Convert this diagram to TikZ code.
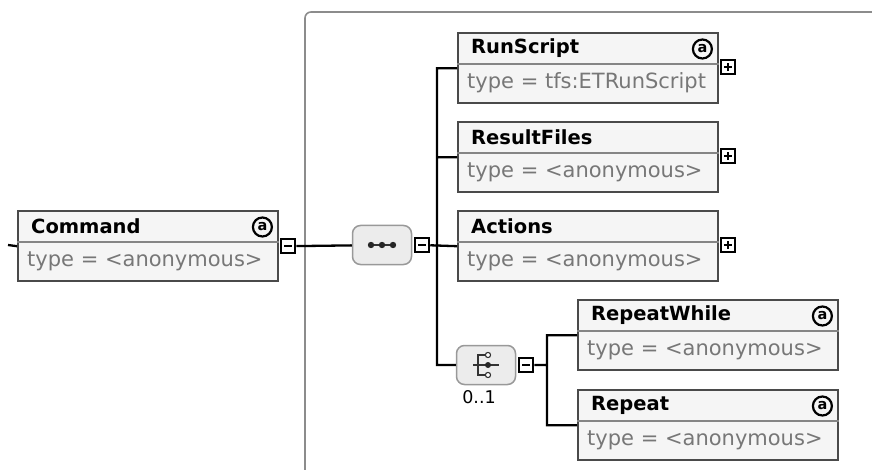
\documentclass[tikz,border=0pt]{standalone}
\usepackage{fontspec}
\setmainfont{DejaVu Sans}
\usepackage{tikz}

\definecolor{boxfill}{HTML}{F5F5F5}
\definecolor{boxline}{HTML}{4A4A4A}
\definecolor{sepgray}{HTML}{858585}
\definecolor{typegray}{HTML}{777777}
\definecolor{grpfill}{HTML}{ECECEC}
\definecolor{grpline}{HTML}{999999}
\definecolor{panelgray}{HTML}{8C8C8C}

% element box: name, top-left corner, title, type
\newcommand{\xsdelem}[4]{%
  \node[elem] (#1) at (#2) {};
  \draw[sepline] ([yshift=-32pt]#1.north west) -- ([yshift=-32pt]#1.north east);
  \node[etitle] (#1-title) at ([xshift=14pt,yshift=-16pt]#1.north west) {#3};
  \node[etype] (#1-type) at ([xshift=10pt,yshift=-51pt]#1.north west) {#4};
}

\begin{document}
\begin{tikzpicture}[x=1pt,y=-1pt,
    elem/.style={draw=boxline, fill=boxfill, line width=2.4pt, anchor=north west,
                 minimum width=260pt, minimum height=70pt, inner sep=0pt},
    sepline/.style={draw=sepgray, line width=2.2pt},
    etitle/.style={anchor=west, inner sep=0pt, font=\fontsize{19.5}{19.5}\selectfont\bfseries},
    etype/.style={anchor=west, inner sep=0pt, text=typegray, font=\fontsize{21}{21}\selectfont},
    attr/.style={circle, draw=black, line width=2.2pt, minimum size=19pt, inner sep=0pt,
                 font=\fontsize{14.5}{14.5}\selectfont\bfseries},
    grp/.style={draw=grpline, fill=grpfill, rounded corners=8pt, line width=1.5pt,
                minimum width=59pt, minimum height=39pt, inner sep=0pt},
    pmbox/.style={draw=black, fill=white, line width=2pt, minimum size=14pt, inner sep=0pt},
    collapsebox/.style={pmbox, path picture={
        \draw[line width=2pt] ([xshift=-4pt]path picture bounding box.center)
          -- ([xshift=4pt]path picture bounding box.center);}},
    expandbox/.style={pmbox, path picture={
        \draw[line width=2pt] ([xshift=-4pt]path picture bounding box.center)
          -- ([xshift=4pt]path picture bounding box.center);
        \draw[line width=2pt] ([yshift=-4pt]path picture bounding box.center)
          -- ([yshift=4pt]path picture bounding box.center);}},
    conn/.style={draw=black, line width=2.3pt},
    icon/.style={draw=black!80, line width=1.6pt},
    panel/.style={draw=panelgray, line width=1.6pt, rounded corners=6pt},
    card/.style={inner sep=0pt, font=\fontsize{17.5}{17.5}\selectfont}]

  \useasboundingbox (0,0) rectangle (872,470);

  % group panel
  \draw[panel] (305,480) -- (305,12) -- (885,12);

  % elements
  \xsdelem{cmd}{17,210}{Command}{type = <anonymous>}
  \xsdelem{run}{457,32}{RunScript}{type = tfs:ETRunScript}
  \xsdelem{res}{457,121}{ResultFiles}{type = <anonymous>}
  \xsdelem{act}{457,210}{Actions}{type = <anonymous>}
  \xsdelem{rw}{577,299}{RepeatWhile}{type = <anonymous>}
  \xsdelem{rep}{577,389}{Repeat}{type = <anonymous>}

  \node[attr] (cmd-at) at ([xshift=-17pt,yshift=-17pt]cmd.north east) {a};
  \node[attr] (run-at) at ([xshift=-17pt,yshift=-17pt]run.north east) {a};
  \node[attr] (rw-at)  at ([xshift=-17pt,yshift=-17pt]rw.north east) {a};
  \node[attr] (rep-at) at ([xshift=-17pt,yshift=-17pt]rep.north east) {a};

  % +/- boxes
  \node[collapsebox, anchor=west] (cmdm) at ([xshift=1pt]cmd.east) {};
  \node[expandbox, anchor=west] (runp) at ([xshift=1pt,yshift=1pt]run.east) {};
  \node[expandbox, anchor=west] (resp) at ([xshift=1pt,yshift=1pt]res.east) {};
  \node[expandbox, anchor=west] (actp) at ([xshift=1pt,yshift=1pt]act.east) {};

  % sequence
  \node[grp] (seq) at (382,245) {};
  \draw[icon] ([xshift=-11pt]seq.center) -- ([xshift=11pt]seq.center);
  \fill[black!85] ([xshift=-11pt]seq.center) circle (3.2pt)
                  (seq.center) circle (3.2pt)
                  ([xshift=11pt]seq.center) circle (3.2pt);
  \node[collapsebox, anchor=west] (seqm) at ([xshift=2pt]seq.east) {};

  % choice
  \node[grp] (chc) at (486,365) {};
  \draw[icon] ([xshift=-13pt]chc.center) -- ([xshift=13pt]chc.center);
  \draw[icon] ([xshift=-1pt,yshift=10pt]chc.center) -- ([xshift=-8pt,yshift=10pt]chc.center)
    -- ([xshift=-8pt,yshift=-10pt]chc.center) -- ([xshift=-1pt,yshift=-10pt]chc.center);
  \draw[icon, line width=1.1pt, fill=white] ([xshift=2pt,yshift=10pt]chc.center) circle (2.6pt)
    ([xshift=2pt,yshift=-10pt]chc.center) circle (2.6pt);
  \fill[black!85] ([xshift=2pt]chc.center) circle (3pt);
  \node[card] (chc-card) at (479,397) {0..1};
  \node[collapsebox, anchor=west] (chcm) at ([xshift=2pt]chc.east) {};

  % connectors
  \coordinate (cmd-in) at (8,245);
  \coordinate (tr) at (437,245);
  \coordinate (ctr) at (547,365);
  \path[conn]
    (cmd-in) -- (cmd.west)
    (cmdm) -- (seq)
    (seqm) -- (act.west)
    (run.west) -| (tr)
    (res.west) -| (tr)
    (chc.west) -| (tr)
    (chcm) -- (ctr)
    (rw.west) -| (ctr)
    (rep.west) -| (ctr);

\end{tikzpicture}
\end{document}
